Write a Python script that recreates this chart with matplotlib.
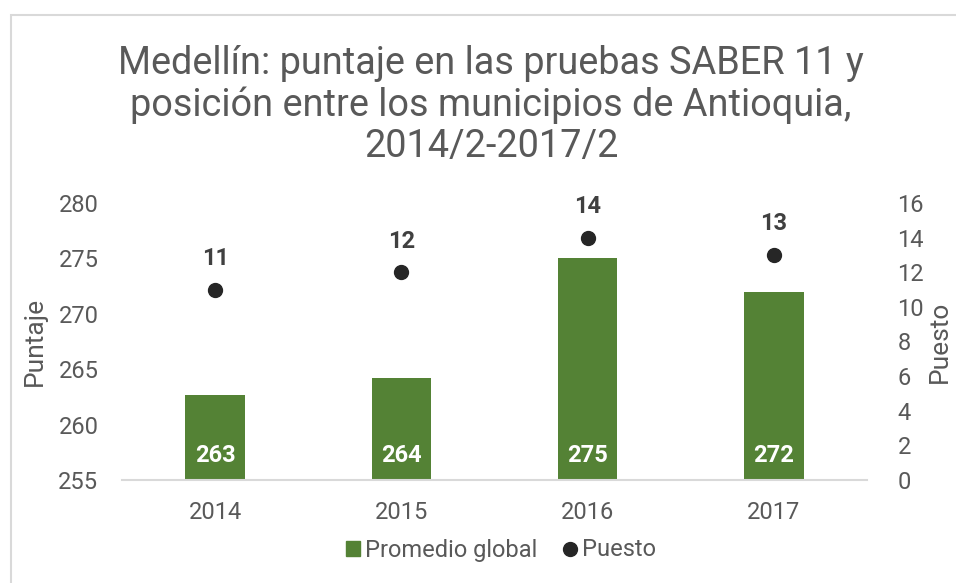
import matplotlib.pyplot as plt
from matplotlib.patches import Rectangle
from matplotlib.lines import Line2D

plt.rcParams['font.family'] = ['Roboto', 'DejaVu Sans']

# Data
years = ['2014', '2015', '2016', '2017']
promedio = [262.7, 264.2, 275.0, 272.0]
promedio_labels = ['263', '264', '275', '272']
puesto = [11, 12, 14, 13]

green = '#548235'
gray_text = '#595959'

fig = plt.figure(figsize=(9.56, 5.83), dpi=100)

# light frame around the chart
fig.patches.append(Rectangle((11 / 956, -0.1), 1.1, (583 - 15) / 583 + 0.1,
                             transform=fig.transFigure, fill=False,
                             edgecolor='#d9d9d9', linewidth=1.5))

ax = fig.add_axes([122 / 956, 103 / 583, 745 / 956, 277 / 583])
ax2 = ax.twinx()

x = list(range(len(years)))
ax.bar(x, [p - 255 for p in promedio], bottom=255, width=0.32, color=green, zorder=2)
ax.set_ylim(255, 280)
ax.set_xlim(-0.5, 3.5)
ax.set_yticks([255, 260, 265, 270, 275, 280])
ax.set_xticks(x)
ax.set_xticklabels(years)

for i, lab in enumerate(promedio_labels):
    ax.annotate(lab, (i, 255), xytext=(0, 25), textcoords='offset pixels',
                ha='center', va='center', color='white', fontsize=17,
                fontweight='bold')

ax2.plot(x, puesto, 'o', color='#262626', markersize=10, zorder=3)
ax2.set_ylim(0, 16)
ax2.set_yticks(range(0, 17, 2))
for i, p in enumerate(puesto):
    ax2.annotate(str(p), (i, p), xytext=(0, 31), textcoords='offset pixels',
                 ha='center', va='center', color='#404040', fontsize=17,
                 fontweight='bold')

for a in (ax, ax2):
    for s in a.spines.values():
        s.set_visible(False)
ax.spines['bottom'].set_visible(True)
ax.spines['bottom'].set_color('#d9d9d9')
ax.spines['bottom'].set_linewidth(1.5)
ax.tick_params(axis='y', length=0, labelsize=17, labelcolor=gray_text, pad=17)
ax.tick_params(axis='x', length=0, labelsize=17, labelcolor=gray_text, pad=15)
ax2.tick_params(axis='y', length=0, labelsize=17, labelcolor=gray_text, pad=22)

ax.set_ylabel('Puntaje', fontsize=19, color=gray_text)
ax.yaxis.label.set_va('center')
ax.yaxis.set_label_coords(-87 / 745, 0.5)
ax2.set_ylabel('Puesto', fontsize=19, color=gray_text, rotation=90)
ax2.yaxis.label.set_va('center')
ax2.yaxis.set_label_coords((940 - 122) / 745, 0.5)

fig.text(491 / 956, 1 - 105 / 583, 'Medellín: puntaje en las pruebas SABER 11 y\n'
         'posición entre los municipios de Antioquia,\n2014/2-2017/2',
         ha='center', va='center', fontsize=27.3, color=gray_text, linespacing=1.15)

handles = [Rectangle((0, 0), 1, 1, color=green),
           Line2D([], [], marker='o', linestyle='', color='#262626', markersize=10)]
fig.legend(handles, ['Promedio global', 'Puesto'], loc='center',
           bbox_to_anchor=(501 / 956, 1 - 550 / 583), ncol=2, frameon=False,
           fontsize=17, labelcolor=gray_text, handlelength=0.6, handleheight=0.6,
           handletextpad=0.2, columnspacing=1.1)

fig.savefig('out.png', dpi=100)
